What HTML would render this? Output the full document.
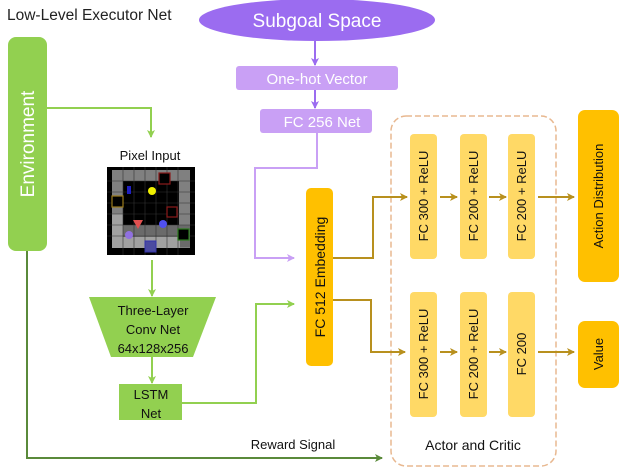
<!DOCTYPE html>
<html><head><meta charset="utf-8"><style>
body{margin:0;background:#fff;}
svg{display:block;font-family:"Liberation Sans",sans-serif;}
</style></head><body>
<svg width="620" height="470" viewBox="0 0 620 470" xmlns="http://www.w3.org/2000/svg">
<defs>
<marker id="ag" markerWidth="8" markerHeight="8" refX="7" refY="4" orient="auto" markerUnits="userSpaceOnUse"><path d="M0,0 L8,4 L0,8 L2,4z" fill="#92d050"/></marker>
<marker id="ad" markerWidth="8" markerHeight="8" refX="7" refY="4" orient="auto" markerUnits="userSpaceOnUse"><path d="M0,0 L8,4 L0,8 L2,4z" fill="#5a8a3a"/></marker>
<marker id="ap" markerWidth="8" markerHeight="8" refX="7" refY="4" orient="auto" markerUnits="userSpaceOnUse"><path d="M0,0 L8,4 L0,8 L2,4z" fill="#9b6cf0"/></marker>
<marker id="al" markerWidth="8" markerHeight="8" refX="7" refY="4" orient="auto" markerUnits="userSpaceOnUse"><path d="M0,0 L8,4 L0,8 L2,4z" fill="#c9a0f5"/></marker>
<marker id="ay" markerWidth="8" markerHeight="8" refX="7" refY="4" orient="auto" markerUnits="userSpaceOnUse"><path d="M0,0 L8,4 L0,8 L2,4z" fill="#b8901e"/></marker>
</defs>
<text x="7" y="20" font-size="15.5" fill="#222">Low-Level Executor Net</text>
<rect x="8" y="37" width="39" height="214" rx="8" fill="#92d050"/>
<text transform="translate(34,144) rotate(-90)" text-anchor="middle" font-size="19" fill="#fff">Environment</text>
<ellipse cx="317" cy="20" rx="118" ry="21" fill="#9b6cf0"/>
<text x="317" y="27" text-anchor="middle" font-size="19" fill="#fff">Subgoal Space</text>
<line x1="315" y1="41" x2="315" y2="65" stroke="#9b6cf0" stroke-width="2" marker-end="url(#ap)"/>
<rect x="236" y="66" width="162" height="24" rx="3" fill="#c9a0f5"/>
<text x="317" y="84" text-anchor="middle" font-size="15" fill="#fff">One-hot Vector</text>
<line x1="315" y1="90" x2="315" y2="108" stroke="#9b6cf0" stroke-width="2" marker-end="url(#ap)"/>
<rect x="260" y="109" width="112" height="24" rx="3" fill="#c9a0f5"/>
<text x="322" y="127" text-anchor="middle" font-size="15" fill="#fff">FC 256 Net</text>
<polyline points="317,133 317,168 255,168 255,258 294,258" fill="none" stroke="#c9a0f5" stroke-width="2" marker-end="url(#al)"/>
<polyline points="47,108 151,108 151,137" fill="none" stroke="#92d050" stroke-width="2" marker-end="url(#ag)"/>
<text x="150" y="160" text-anchor="middle" font-size="13" fill="#111">Pixel Input</text>
<g transform="translate(107,167)">
<rect width="88" height="88" fill="#000"/>
<rect x="5" y="3" width="78" height="11" fill="#808080"/>
<rect x="5" y="3" width="11" height="78" fill="#808080"/>
<rect x="72" y="3" width="11" height="78" fill="#808080"/>
<rect x="5" y="58" width="78" height="22" fill="#6a6a6a"/>
<rect x="5" y="47" width="11" height="34" fill="#a0a0a0"/>
<rect x="5" y="70" width="68" height="11" fill="#a0a0a0"/>
<g stroke="#333" stroke-width="0.6">
<line x1="16" y1="0" x2="16" y2="88"/><line x1="27" y1="0" x2="27" y2="88"/><line x1="38" y1="0" x2="38" y2="88"/><line x1="49" y1="0" x2="49" y2="88"/><line x1="60" y1="0" x2="60" y2="88"/><line x1="71" y1="0" x2="71" y2="88"/>
<line y1="14" x1="0" y2="14" x2="88"/><line y1="25" x1="0" y2="25" x2="88"/><line y1="36" x1="0" y2="36" x2="88"/><line y1="47" x1="0" y2="47" x2="88"/><line y1="58" x1="0" y2="58" x2="88"/><line y1="69" x1="0" y2="69" x2="88"/>
</g>
<rect x="52" y="6" width="11" height="11" fill="#000" stroke="#8b1a1a" stroke-width="1.2"/>
<rect x="5" y="29" width="11" height="11" fill="#000" stroke="#9a7a1a" stroke-width="1.2"/>
<rect x="60" y="40" width="10" height="10" fill="#000" stroke="#8b1a1a" stroke-width="1.2"/>
<rect x="71" y="62" width="11" height="11" fill="#000" stroke="#2a7a1a" stroke-width="1.2"/>
<rect x="38" y="74" width="11" height="11" fill="#4a4aa0" stroke="#3333aa"/>
<rect x="20" y="19" width="4" height="8" fill="#2020c0"/>
<circle cx="45" cy="24" r="4" fill="#f0f000"/>
<path d="M26,53 L36,53 L31,62z" fill="#e05050"/>
<circle cx="56" cy="57" r="4" fill="#5050f0"/>
<circle cx="22" cy="68" r="4" fill="#9070e0"/>
</g>
<line x1="152" y1="260" x2="152" y2="296" stroke="#92d050" stroke-width="2" marker-end="url(#ag)"/>
<path d="M89,297 L216,297 L193,357 L111,357z" fill="#92d050"/>
<text x="153" y="315" text-anchor="middle" font-size="13" fill="#111">Three-Layer</text>
<text x="153" y="334" text-anchor="middle" font-size="13" fill="#111">Conv Net</text>
<text x="153" y="353" text-anchor="middle" font-size="13" fill="#111">64x128x256</text>
<line x1="152" y1="357" x2="152" y2="383" stroke="#92d050" stroke-width="2" marker-end="url(#ag)"/>
<rect x="119" y="384" width="63" height="36" fill="#92d050"/>
<text x="151" y="399" text-anchor="middle" font-size="13" fill="#111">LSTM</text>
<text x="151" y="418" text-anchor="middle" font-size="13" fill="#111">Net</text>
<polyline points="182,403 256,403 256,304 294,304" fill="none" stroke="#92d050" stroke-width="2" marker-end="url(#ag)"/>
<polyline points="27,251 27,458 382,458" fill="none" stroke="#5a8a3a" stroke-width="2" marker-end="url(#ad)"/>
<text x="293" y="449" text-anchor="middle" font-size="13" fill="#111">Reward Signal</text>
<rect x="306" y="188" width="27" height="178" rx="5" fill="#ffc000"/>
<text transform="translate(325,277) rotate(-90)" text-anchor="middle" font-size="14" fill="#111">FC 512  Embedding</text>
<rect x="391" y="116" width="165" height="350" rx="15" fill="none" stroke="#e8b890" stroke-width="1.5" stroke-dasharray="6,3"/>
<text x="473" y="450" text-anchor="middle" font-size="14" fill="#111">Actor and Critic</text>
<polyline points="333,258 373,258 373,197 407,197" fill="none" stroke="#b8901e" stroke-width="2" marker-end="url(#ay)"/>
<polyline points="333,300 371,300 371,352 405,352" fill="none" stroke="#b8901e" stroke-width="2" marker-end="url(#ay)"/>
<g fill="#ffd966">
<rect x="410" y="134" width="27" height="125" rx="4"/>
<rect x="460" y="134" width="27" height="125" rx="4"/>
<rect x="508" y="134" width="27" height="125" rx="4"/>
<rect x="410" y="292" width="27" height="125" rx="4"/>
<rect x="460" y="292" width="27" height="125" rx="4"/>
<rect x="508" y="292" width="27" height="125" rx="4"/>
</g>
<g font-size="13" fill="#111" text-anchor="middle">
<text transform="translate(428,196) rotate(-90)">FC 300 + ReLU</text>
<text transform="translate(478,196) rotate(-90)">FC 200 + ReLU</text>
<text transform="translate(526,196) rotate(-90)">FC 200 + ReLU</text>
<text transform="translate(428,354) rotate(-90)">FC 300 + ReLU</text>
<text transform="translate(478,354) rotate(-90)">FC 200 + ReLU</text>
<text transform="translate(526,354) rotate(-90)">FC 200</text>
</g>
<g stroke="#b8901e" stroke-width="2" marker-end="url(#ay)">
<line x1="440" y1="197" x2="457" y2="197"/><line x1="489" y1="197" x2="506" y2="197"/><line x1="538" y1="197" x2="574" y2="197"/>
<line x1="440" y1="352" x2="457" y2="352"/><line x1="489" y1="352" x2="506" y2="352"/><line x1="538" y1="352" x2="574" y2="352"/>
</g>
<rect x="578" y="110" width="41" height="172" rx="7" fill="#ffc000"/>
<text transform="translate(603,196) rotate(-90)" text-anchor="middle" font-size="13" fill="#111">Action Distribution</text>
<rect x="578" y="321" width="41" height="67" rx="7" fill="#ffc000"/>
<text transform="translate(603,354) rotate(-90)" text-anchor="middle" font-size="13" fill="#111">Value</text>
</svg>
</body></html>
